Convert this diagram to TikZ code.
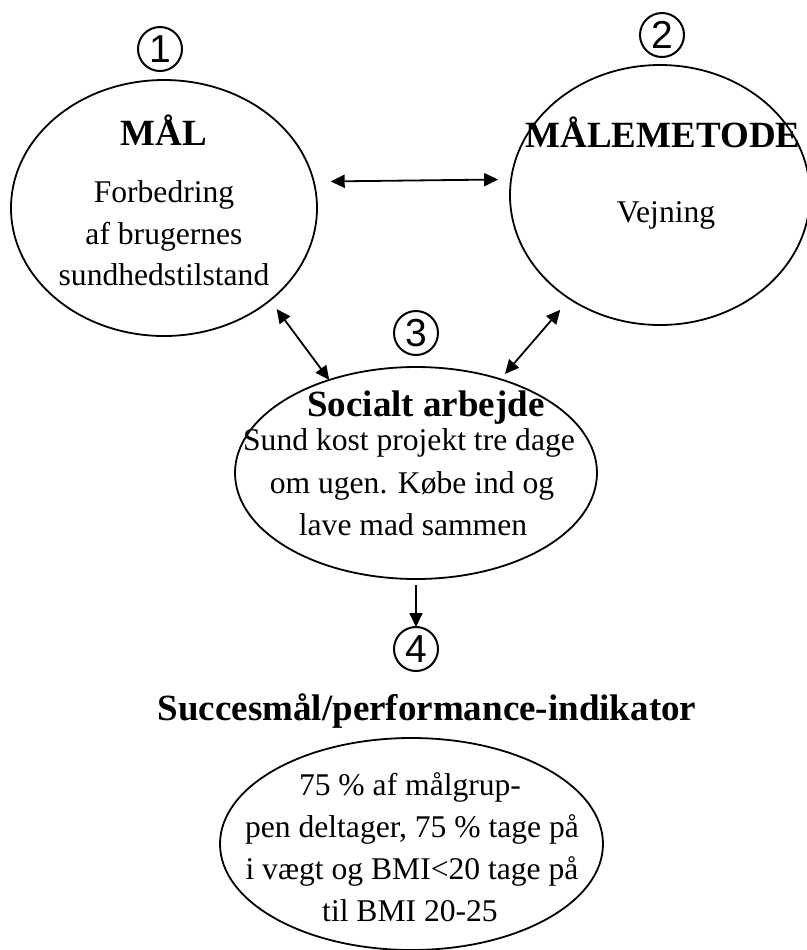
\documentclass[tikz,border=0pt]{standalone}
\usepackage{fontspec}
\setmainfont{Liberation Serif}
\newfontfamily\digitfont{Liberation Sans}
\usetikzlibrary{arrows.meta,shapes.geometric}
\begin{document}
\begin{tikzpicture}[x=0.5pt,y=-0.5pt,
  bubble/.style={draw, ellipse, line width=0.9pt, inner sep=0pt, outer sep=0pt},
  numcirc/.style={draw, circle, line width=1pt, minimum size=22pt, inner sep=0pt, outer sep=0pt,
                  font=\digitfont\fontsize{19.5pt}{19.5pt}\selectfont},
  titletext/.style={anchor=base, inner sep=0pt, font=\bfseries\fontsize{18.5pt}{22pt}\selectfont},
  bodytext/.style={anchor=base, inner sep=0pt, font=\fontsize{15.8pt}{19pt}\selectfont},
  tip/.tip={Triangle[length=7pt,width=6.5pt]},
  twoway/.style={line width=0.9pt, tip-tip},
  oneway/.style={line width=0.9pt, -tip},
]
\useasboundingbox (0,0) rectangle (807,950);

% the four ellipses
\node[bubble, minimum width=153pt, minimum height=128pt] (mal) at (164,208) {};
\node[bubble, minimum width=150pt, minimum height=130pt] (met) at (660,195) {};
\node[bubble, minimum width=181pt, minimum height=106pt] (soc) at (416,473) {};
\node[bubble, minimum width=191.5pt, minimum height=106pt] (ind) at (411.5,844) {};

% step numbers
\node[numcirc] (c1) at (160,49) {1};
\node[numcirc] (c2) at (662,35) {2};
\node[numcirc] (c3) at (416,333) {3};
\node[numcirc] (c4) at (416,649) {4};

% texts of the goal
\node[titletext] (malT) at (164,145) {MÅL};
\node[bodytext] (malA) at (164,202) {Forbedring};
\node[bodytext] (malB) at (164,244) {af brugernes};
\node[bodytext] (malC) at (164,285) {sundhedstilstand};

% texts of the method
\node[titletext] (metT) at (663,147) {MÅLEMETODE};
\node[bodytext] (metA) at (666,222) {Vejning};

% texts of the social work
\node[titletext] (socT) at (426,416) {Socialt arbejde};
\node[bodytext] (socA) at (409,450) {Sund kost projekt tre dage};
\node[bodytext] (socB) at (412,493) {om ugen. Købe ind og};
\node[bodytext] (socC) at (413,535) {lave mad sammen};

% indicator heading and texts
\node[titletext] (indT) at (427,720) {Succesmål/performance-indikator};
\node[bodytext] (indA) at (410,795) {75 \% af målgrup-};
\node[bodytext] (indB) at (412,837) {pen deltager, 75 \% tage på};
\node[bodytext] (indC) at (412,879) {i vægt og BMI<20 tage på};
\node[bodytext] (indD) at (410,921) {til BMI 20-25};

% connectors
\draw[twoway, shorten <=8.5pt, shorten >=6.5pt] (mal.10.6) -- (met.174.3);
\draw[twoway, shorten <=5.5pt] (mal.-41.4) -- (soc.133.4);
\draw[twoway, shorten <=7.25pt, shorten >=3.5pt] (met.229.3) -- (soc.48);
\draw[oneway, shorten <=3pt] (soc.south) -- (c4.north);
\end{tikzpicture}
\end{document}
